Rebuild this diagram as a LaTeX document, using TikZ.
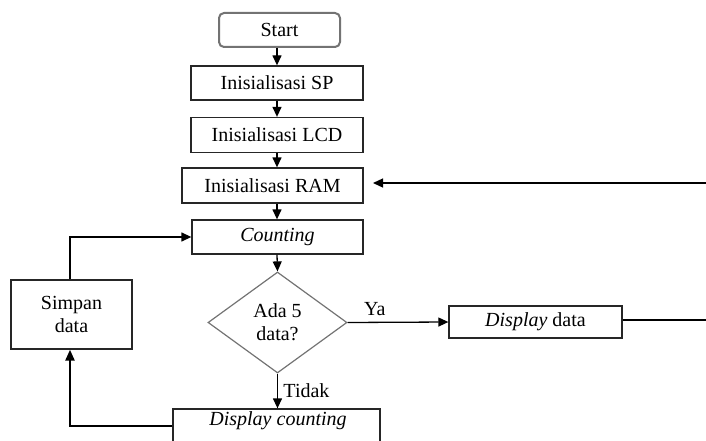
\documentclass[tikz,border=0pt]{standalone}
\usepackage{fontspec}
\setmainfont{Liberation Serif}
\usetikzlibrary{arrows.meta,shapes.geometric,calc}
\begin{document}
\begin{tikzpicture}[x=1pt,y=-1pt,
  font=\fontsize{20}{23}\selectfont,
  box/.style={draw=black!85,line width=1.3pt,rectangle,inner sep=0pt,align=center},
  startbox/.style={draw=black!55,line width=2pt,rounded corners=5pt,rectangle,inner sep=0pt},
  decision/.style={draw=black!55,line width=1.2pt,diamond,shape aspect=1.38,inner sep=0pt,align=center,minimum width=139pt,minimum height=101pt},
  arr/.style={line width=1.3pt,-{Triangle[length=10pt,width=9pt]}},
  ln/.style={line width=1.3pt}]
\useasboundingbox (0,0) rectangle (706,441);
\node[startbox,minimum width=121pt,minimum height=34pt] (start) at (279.5,30) {Start};
\node[box,minimum width=172pt,minimum height=34pt] (sp) at (277,83) {Inisialisasi SP};
\node[box,minimum width=172pt,minimum height=35pt] (lcd) at (277,135) {Inisialisasi LCD};
\node[box,minimum width=181pt,minimum height=35pt] (ram) at (272.5,185.5) {Inisialisasi RAM};
\node[box,minimum width=171pt,minimum height=34pt] (cnt) at (277.5,237) {\itshape Counting};
\node[decision] (dec) at (277.5,322.5) {Ada 5\\data?};
\node[box,minimum width=121pt,minimum height=69pt] (simpan) at (71.5,314.5) {Simpan\\data};
\node[box,minimum width=207pt,minimum height=36pt] (dc) at (276.5,427) {};
\node (dctext) at (278,421) {\itshape Display counting};
\node[box,minimum width=173pt,minimum height=32pt] (dd) at (535.5,322) {\itshape Display\upshape\ data};
\coordinate (r1) at (706,183);
\coordinate (r2) at (706,320);
\coordinate (ramin) at (373,183);
\coordinate (lt) at (70,237);
\coordinate (lb) at (70,426);

\draw[arr] (start.south -| 277,0) -- (sp.north -| 277,0);
\draw[arr] (sp.south -| 277,0) -- (lcd.north -| 277,0);
\draw[arr] (lcd.south -| 277,0) -- (ram.north -| 277,0);
\draw[arr] (ram.south -| 277,0) -- (cnt.north -| 277,0);
\draw[arr] (cnt.south -| 277,0) -- (dec.north);
\draw[arr] (r1) -- (ramin);
\draw[arr] (dec.east) -- node[above=3pt,pos=0.27] {Ya} (dd.west);
\draw[ln] (dd.east |- r2) -- (r2);
\draw[arr] (dec.south) -- node[right=2pt,pos=0.5] {Tidak} (dc.north -| dec.south);
\draw[line width=2.4pt,-{Triangle[length=11pt,width=9pt]}] (dc.west |- lb) -- (lb) -- (simpan.south -| lb);
\draw[arr] (simpan.north -| lt) -- (lt) -- (cnt.west |- lt);
\end{tikzpicture}
\end{document}
